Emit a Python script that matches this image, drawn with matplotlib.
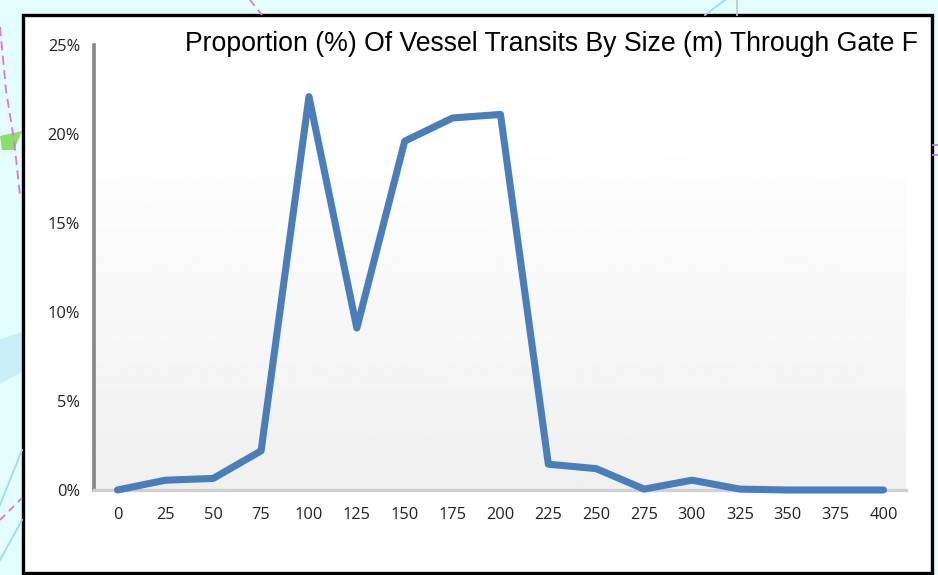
import numpy as np
import matplotlib
matplotlib.use("Agg")
import matplotlib.pyplot as plt
from matplotlib.patches import Rectangle, Polygon
from matplotlib.lines import Line2D

sizes = [0, 25, 50, 75, 100, 125, 150, 175, 200, 225, 250, 275, 300, 325, 350, 375, 400]
share = [0, 0.55, 0.65, 2.2, 22.1, 9.1, 19.6, 20.9, 21.1, 1.45, 1.2, 0.05, 0.55, 0.05, 0, 0, 0]
y_ticks = [0, 5, 10, 15, 20, 25]
title = "Proportion (%) Of Vessel Transits By Size (m) Through Gate F"

W, H = 938, 575
fig = plt.figure(figsize=(W / 100, H / 100), dpi=100, facecolor="#e3fdfd")

def fx(x): return x / W
def fy(y): return 1 - y / H

# map backdrop fragments
tr = fig.transFigure
fig.add_artist(Polygon([(fx(-2), fy(340)), (fx(22), fy(332)), (fx(22), fy(372)), (fx(-2), fy(385))],
                       transform=tr, fc="#c9eef5", ec="none"))
fig.add_artist(Polygon([(fx(0), fy(136)), (fx(22), fy(131)), (fx(14), fy(150)), (fx(2), fy(150))],
                       transform=tr, fc="#8fdc6c", ec="none"))
for seg, col, ls in [
    ([(0, 27), (6, 90), (14, 140), (20, 195)], "#e070e8", (0, (5, 3))),
    ([(0, 520), (22, 498)], "#e070e8", (0, (4, 3))),
    ([(0, 505), (22, 450)], "#9fdcea", "-"),
    ([(0, 560), (22, 520)], "#9fdcea", "-"),
    ([(250, 0), (262, 15)], "#e070e8", (0, (4, 3))),
    ([(705, 15), (725, 0)], "#9fdcea", "-"),
    ([(737, 0), (737, 15)], "#c8c8c8", "-"),
    ([(933, 145), (938, 145)], "#e070e8", "-"),
    ([(933, 155), (938, 155)], "#e070e8", "-"),
]:
    fig.add_artist(Line2D([fx(p[0]) for p in seg], [fy(p[1]) for p in seg], transform=tr,
                          color=col, lw=1.3, ls=ls))

# white panel with black frame
fig.add_artist(Rectangle((fx(23), fy(573)), 909 / W, 558 / H, transform=tr,
                         fc="white", ec="black", lw=2.4, zorder=1))

ax = fig.add_axes([fx(94), fy(490), (906 - 94) / W, (490 - 45) / H], zorder=2)
ax.patch.set_alpha(0)

# soft vertical gradient behind the plot, white at the top and pale grey at the bottom
grad = np.clip((np.linspace(0, 1, 256) - 0.2) / 0.8, 0, 1)[:, None]
ax.imshow(1 - grad * 0.06, extent=(-0.49, 16.47, 0, 25), origin="upper", cmap="gray",
          vmin=0, vmax=1, aspect="auto", zorder=0, interpolation="bilinear")
ax.set_xlim(-0.49, 16.47)
ax.set_ylim(0, 25)

ax.plot(range(len(sizes)), share, color="#4a7ebb", lw=5.1, solid_joinstyle="round",
        solid_capstyle="round", zorder=3, clip_on=False)

for s in ("top", "right"):
    ax.spines[s].set_visible(False)
ax.spines["left"].set_color("#868686")
ax.spines["left"].set_linewidth(2.6)
ax.spines["bottom"].set_color("#d0d0d0")
ax.spines["bottom"].set_linewidth(2.4)

ax.set_xticks(range(len(sizes)), [str(v) for v in sizes])
ax.set_yticks(y_ticks, [f"{v}%" for v in y_ticks])
ax.tick_params(length=0, labelsize=11.8, labelcolor="#222222")
ax.tick_params(axis="x", pad=12)
ax.tick_params(axis="y", pad=10)
for lab in ax.get_xticklabels() + ax.get_yticklabels():
    lab.set_fontfamily("Open Sans")

fig.text(fx(918), fy(44), title, ha="right", va="center", family="Liberation Sans",
         fontsize=19.15, color="black", zorder=4)

fig.savefig("out.png", dpi=100, facecolor=fig.get_facecolor())
